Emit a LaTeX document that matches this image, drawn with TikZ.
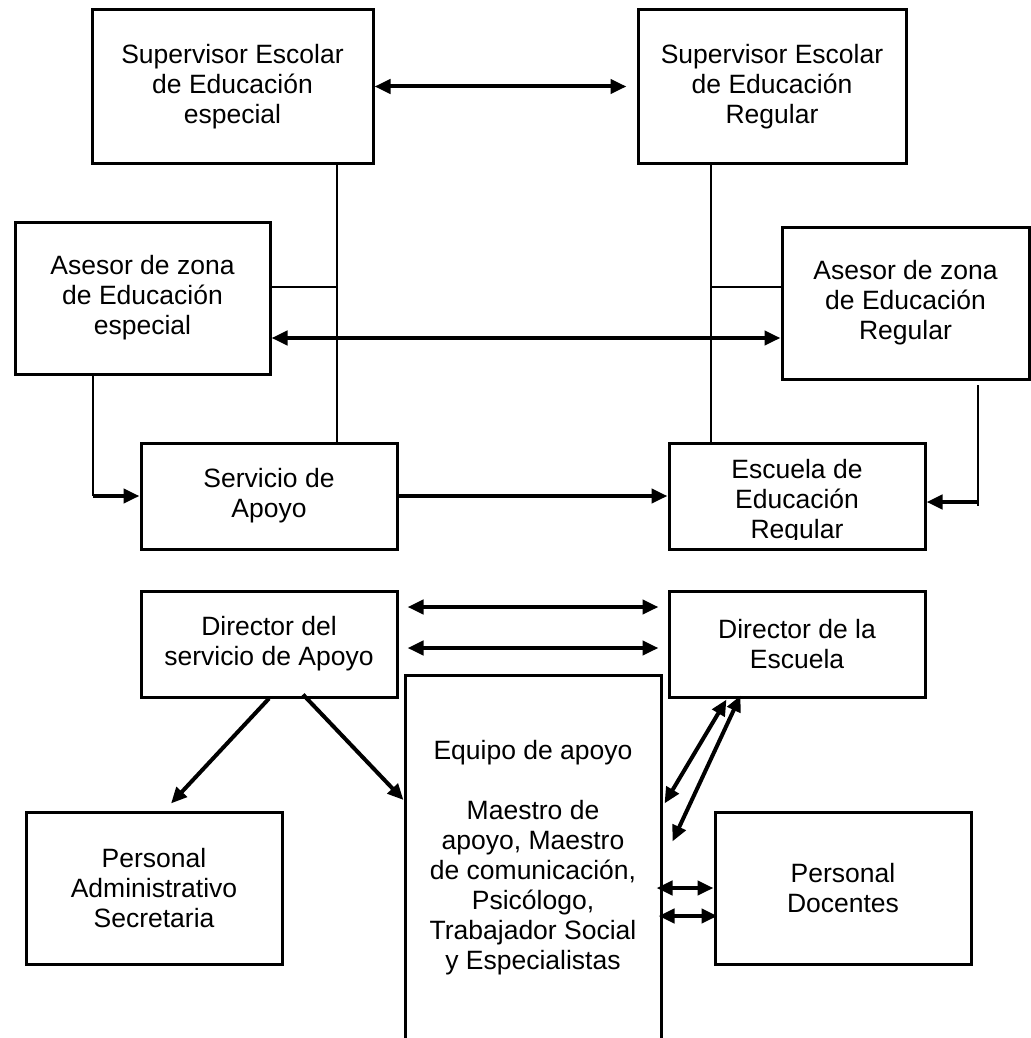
\documentclass[tikz,border=0pt]{standalone}
\usepackage{fontspec}
\setmainfont{Liberation Sans}
\usepackage{tikz}
\usetikzlibrary{arrows.meta,calc}

\tikzset{
    every node/.style={font=\fontsize{13.25}{15}\selectfont, align=center},
    box/.style={draw, line width=1.5pt, rectangle, inner sep=0pt, fill=white},
    link/.style={line width=1pt},
    arr/.style={line width=2pt, -{Triangle[length=8pt,width=7pt]}},
    dbl/.style={line width=2pt, {Triangle[length=8pt,width=7pt]}-{Triangle[length=8pt,width=7pt]}},
}

\begin{document}
\begin{tikzpicture}[x=0.5pt, y=-0.5pt]
    \useasboundingbox (0,0) rectangle (1031,1038);
    \clip (0,0) rectangle (1031,1038);

    % Supervisores
    \node[box, minimum width=140.5pt, minimum height=76.5pt] (sup1) at (232.5,86.5) {Supervisor Escolar\\de Educación\\especial};
    \node[box, minimum width=134pt, minimum height=76.5pt] (sup2) at (772,86.5) {Supervisor Escolar\\de Educación\\Regular};

    % Asesores de zona
    \node[box, minimum width=127.5pt, minimum height=76pt] (ase1) at (142.5,298) {Asesor de zona\\de Educación\\especial};
    \node[box, minimum width=123.5pt, minimum height=76pt] (ase2) at (905.5,303) {Asesor de zona\\de Educación\\Regular};

    % Servicio y escuela
    \node[box, minimum width=128pt, minimum height=53pt] (srv) at (269,496) {Servicio de\\Apoyo};
    \node[box, minimum width=128pt, minimum height=53pt] (esc) at (797,496) {};
    \begin{scope}
        \clip (esc.north west) rectangle ($(esc.south east)+(0,-11)$);
        \node (esctext) at (797,502) {Escuela de\\Educación\\Regular};
    \end{scope}

    % Directores
    \node[box, minimum width=128pt, minimum height=53pt] (dir1) at (269,644) {Director del\\servicio de Apoyo};
    \node[box, minimum width=128pt, minimum height=53pt] (dir2) at (797,644) {Director de la\\Escuela};

    % Personal
    \node[box, minimum width=128pt, minimum height=200pt] (eq) at (533,875) {};
    \node (eqtext) at (533,858) {Equipo de apoyo\\[15pt]Maestro de\\apoyo, Maestro\\de comunicación,\\Psicólogo,\\Trabajador Social\\y Especialistas};
    \node[box, minimum width=128pt, minimum height=76pt] (adm) at (154,888) {Personal\\Administrativo\\Secretaria};
    \node[box, minimum width=128pt, minimum height=76pt] (doc) at (843,888) {Personal\\Docentes};

    % Lineas de mando
    \coordinate (sp1) at (337,0);
    \coordinate (sp2) at (711,0);
    \coordinate (tap) at (0,287);
    \coordinate (mid) at (0,338);
    \draw[dbl, shorten >=5pt] (sup1) -- (sup2);
    \draw[link] (sup1.south -| sp1) -- (srv.north -| sp1);
    \draw[link] (sup2.south -| sp2) -- (esc.north -| sp2);
    \draw[link] (ase1.east |- tap) -- (tap -| sp1);
    \draw[link] (ase2.west |- tap) -- (tap -| sp2);
    \draw[dbl] (ase1.east |- mid) -- (ase2.west |- mid);

    % Asesor especial -> servicio
    \coordinate (ldrop) at (93,0);
    \draw[link] (ase1.south -| ldrop) -- (srv.west -| ldrop);
    \draw[arr] (srv.west -| ldrop) -- (srv.west);
    \draw[arr] (srv) -- (esc);

    % Asesor regular -> escuela
    \coordinate (rtop) at (978,385);
    \coordinate (rbot) at (978,506);
    \coordinate (rmid) at (978,502);
    \draw[link] (rtop) -- (rbot);
    \draw[arr] (rmid) -- (esc.east |- rmid);

    % Directores
    \coordinate (d1) at (0,607);
    \coordinate (d2) at (0,648);
    \draw[dbl, shorten <=4.5pt, shorten >=4.5pt] (dir1.east |- d1) -- (dir2.west |- d1);
    \draw[dbl, shorten <=4.5pt, shorten >=4.5pt] (dir1.east |- d2) -- (dir2.west |- d2);
    \coordinate (eqin) at (0,800);
    \draw[arr] (dir1.south) -- ($(adm.north)+(17,-7)$);
    \draw[arr] ($(dir1.south)+(34,-4)$) -- (eq.west |- eqin);
    \draw[dbl] ($(eq.north east)+(2,130)$) -- ($(dir2.south west)+(59,1)$);
    \draw[dbl] ($(eq.north east)+(10,168)$) -- ($(dir2.south west)+(73,-3)$);

    % Equipo <-> docentes
    \coordinate (e1) at (0,888);
    \coordinate (e2) at (0,916);
    \draw[dbl] ($(eq.east |- e1)+(-6,0)$) -- (doc.west |- e1);
    \draw[dbl] ($(eq.east |- e2)+(-4,0)$) -- ($(doc.west |- e2)+(4,0)$);
\end{tikzpicture}
\end{document}
